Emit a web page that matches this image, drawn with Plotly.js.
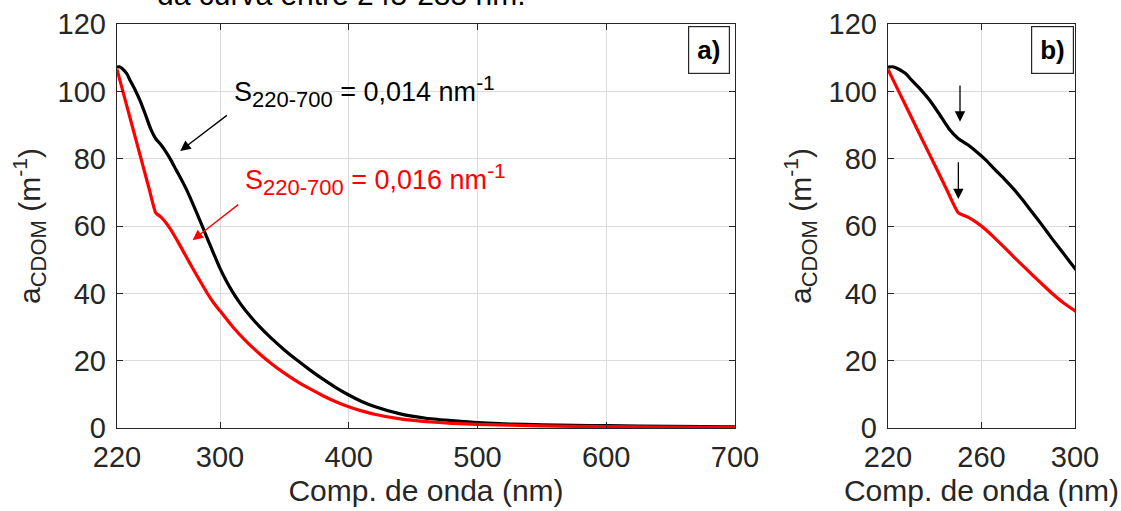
<!DOCTYPE html>
<html>
<head>
<meta charset="utf-8">
<script src="https://cdn.plot.ly/plotly-3.0.1.min.js"></script>
<style>
  html, body { margin: 0; padding: 0; background: #ffffff; }
  #chart { width: 1121px; height: 511px; }
</style>
</head>
<body>
<div id="chart"></div>
<script>
// Absorption spectra of CDOM (m^-1) against wavelength (nm)
const wlBlack = [220, 222, 224, 226, 228, 230, 234, 238, 242, 246, 250, 254, 258, 262, 266, 270, 274, 278, 282, 286, 290, 295, 300, 305, 310, 315, 320, 330, 340, 350, 360, 370, 380, 390, 400, 410, 420, 440, 460, 480, 500, 525, 550, 575, 600, 650, 700];
const aBlack  = [107.2, 107.3, 106.8, 106.0, 105.0, 103.4, 100.5, 97.2, 93.2, 89.0, 86.0, 84.2, 82.0, 79.5, 76.6, 73.8, 70.8, 67.4, 63.8, 60.2, 56.4, 51.9, 47.4, 43.6, 40.3, 37.4, 34.8, 30.4, 26.6, 23.2, 20.1, 17.2, 14.5, 12.0, 9.8, 7.9, 6.4, 4.2, 2.9, 2.2, 1.6, 1.2, 0.95, 0.8, 0.7, 0.5, 0.35];

const wlRed = [220, 225, 230, 235, 240, 245, 250, 254, 258, 262, 266, 270, 274, 278, 282, 286, 290, 295, 300, 310, 320, 330, 340, 350, 360, 370, 380, 390, 400, 410, 420, 440, 460, 480, 500, 550, 600, 650, 700];
const aRed  = [106.5, 99.4, 92.3, 85.2, 78.1, 71.0, 64.0, 62.7, 61.0, 58.8, 56.2, 53.5, 50.7, 48.0, 45.3, 42.7, 40.1, 37.2, 34.8, 30.0, 25.9, 22.3, 19.1, 16.3, 13.8, 11.6, 9.6, 7.8, 6.3, 5.1, 4.1, 2.7, 1.9, 1.4, 1.1, 0.65, 0.4, 0.3, 0.2];

const ticksA = [220, 300, 400, 500, 600, 700];
const ticksB = [220, 260, 300];
const ticksY = [0, 20, 40, 60, 80, 100, 120];

const FONT = '"Liberation Sans", Arial, Helvetica, sans-serif';
const INK = '#262626';
const FS_TICK = 29;
const FS_TITLE = 30;
const FS_NOTE = 27;

const lineBlack = { color: '#000000', width: 3.2, shape: 'spline', smoothing: 0.5 };
const lineRed = { color: '#ff0000', width: 3.2, shape: 'spline', smoothing: 0.5 };

const traces = [
  { x: wlBlack, y: aBlack, xaxis: 'x', yaxis: 'y', mode: 'lines', line: lineBlack, hoverinfo: 'skip' },
  { x: wlRed, y: aRed, xaxis: 'x', yaxis: 'y', mode: 'lines', line: lineRed, hoverinfo: 'skip' },
  { x: wlBlack, y: aBlack, xaxis: 'x2', yaxis: 'y2', mode: 'lines', line: lineBlack, hoverinfo: 'skip' },
  { x: wlRed, y: aRed, xaxis: 'x2', yaxis: 'y2', mode: 'lines', line: lineRed, hoverinfo: 'skip' }
];

function xAxis(domain, range, ticks) {
  return {
    domain: domain, range: range, tickvals: ticks, ticktext: ticks.map(String),
    ticks: 'inside', ticklen: 6, tickwidth: 1, tickcolor: INK,
    showline: true, linecolor: INK, linewidth: 1.2, mirror: 'ticks',
    showgrid: true, gridcolor: '#dcdcdc', gridwidth: 1, zeroline: false,
    tickfont: { family: FONT, size: FS_TICK, color: INK },
    ticklabelstandoff: 3,
    title: { text: 'Comp. de onda (nm)', font: { family: FONT, size: FS_TITLE, color: INK }, standoff: 8 },
    fixedrange: true
  };
}
function yAxis(domain, anchor) {
  return {
    domain: domain, range: [0, 120], tickvals: ticksY, anchor: anchor,
    ticks: 'inside', ticklen: 6, tickwidth: 1, tickcolor: INK,
    showline: true, linecolor: INK, linewidth: 1.2, mirror: 'ticks',
    showgrid: true, gridcolor: '#dcdcdc', gridwidth: 1, zeroline: false,
    tickfont: { family: FONT, size: FS_TICK, color: INK },
    ticklabelstandoff: 4,
    title: {
      text: 'a<sub><span style="font-size:22px">CDOM</span></sub> (m<sup><span style="font-size:21px">-1</span></sup>)',
      font: { family: FONT, size: FS_TITLE, color: INK }, standoff: 8
    },
    fixedrange: true
  };
}

const yDom = [0.1624, 0.9530];

function slopeLabel(value) {
  return 'S<sub><span style="font-size:22px">220-700</span></sub> = ' + value + ' nm<sup><span style="font-size:21px">-1</span></sup>';
}

const annotations = [
  // caption line running off the top edge
  { xref: 'paper', yref: 'paper', x: 155 / 1121, y: (511 - 13) / 511, xanchor: 'left', yanchor: 'bottom',
    text: 'da curva entre 245-285 nm.', showarrow: false, font: { family: FONT, size: FS_TITLE, color: '#000000' } },
  // slope labels
  { xref: 'paper', yref: 'paper', x: 232 / 1121, y: (511 - 91) / 511, xanchor: 'left', yanchor: 'middle',
    text: slopeLabel('0,014'), showarrow: false, font: { family: FONT, size: FS_NOTE, color: '#000000' } },
  { xref: 'paper', yref: 'paper', x: 243 / 1121, y: (511 - 179) / 511, xanchor: 'left', yanchor: 'middle',
    text: slopeLabel('0,016'), showarrow: false, font: { family: FONT, size: FS_NOTE, color: '#ff0000' } },
  // arrows in panel a
  { xref: 'x', yref: 'y', x: 269.1, y: 82.3, axref: 'x', ayref: 'y', ax: 306.5, ay: 93.2, text: '',
    showarrow: true, arrowhead: 2, arrowsize: 1.6, arrowwidth: 1.3, arrowcolor: '#000000', standoff: 0 },
  { xref: 'x', yref: 'y', x: 278.7, y: 55.8, axref: 'x', ayref: 'y', ax: 315.3, ay: 66.7, text: '',
    showarrow: true, arrowhead: 2, arrowsize: 1.6, arrowwidth: 1.3, arrowcolor: '#ff0000', standoff: 0 },
  // arrows in panel b
  { xref: 'x2', yref: 'y2', x: 250.8, y: 91.0, axref: 'x2', ayref: 'y2', ax: 250.8, ay: 102.2, text: '',
    showarrow: true, arrowhead: 2, arrowsize: 1.6, arrowwidth: 1.3, arrowcolor: '#000000', standoff: 0 },
  { xref: 'x2', yref: 'y2', x: 250.1, y: 68.0, axref: 'x2', ayref: 'y2', ax: 250.1, ay: 79.4, text: '',
    showarrow: true, arrowhead: 2, arrowsize: 1.6, arrowwidth: 1.3, arrowcolor: '#000000', standoff: 0 },
  // panel letters
  { xref: 'paper', yref: 'paper', x: 709 / 1121, y: (511 - 50.5) / 511, xanchor: 'center', yanchor: 'middle',
    text: '<b>a)</b>', showarrow: false, font: { family: FONT, size: 26, color: '#000000' },
    bordercolor: INK, borderwidth: 1.2, borderpad: 8, bgcolor: '#ffffff' },
  { xref: 'paper', yref: 'paper', x: 1052 / 1121, y: (511 - 50) / 511, xanchor: 'center', yanchor: 'middle',
    text: '<b>b)</b>', showarrow: false, font: { family: FONT, size: 26, color: '#000000' },
    bordercolor: INK, borderwidth: 1.2, borderpad: 8, bgcolor: '#ffffff' }
];

const layout = {
  width: 1121, height: 511,
  margin: { l: 0, r: 0, t: 0, b: 0 },
  paper_bgcolor: '#ffffff', plot_bgcolor: '#ffffff',
  showlegend: false,
  font: { family: FONT, size: FS_TICK, color: INK },
  xaxis: Object.assign(xAxis([117 / 1121, 735 / 1121], [220, 700], ticksA), { anchor: 'y' }),
  yaxis: yAxis(yDom, 'x'),
  xaxis2: Object.assign(xAxis([888 / 1121, 1075 / 1121], [220, 300], ticksB), { anchor: 'y2' }),
  yaxis2: yAxis(yDom, 'x2'),
  annotations: annotations
};

Plotly.newPlot('chart', traces, layout, { staticPlot: true, displayModeBar: false });
</script>
</body>
</html>
